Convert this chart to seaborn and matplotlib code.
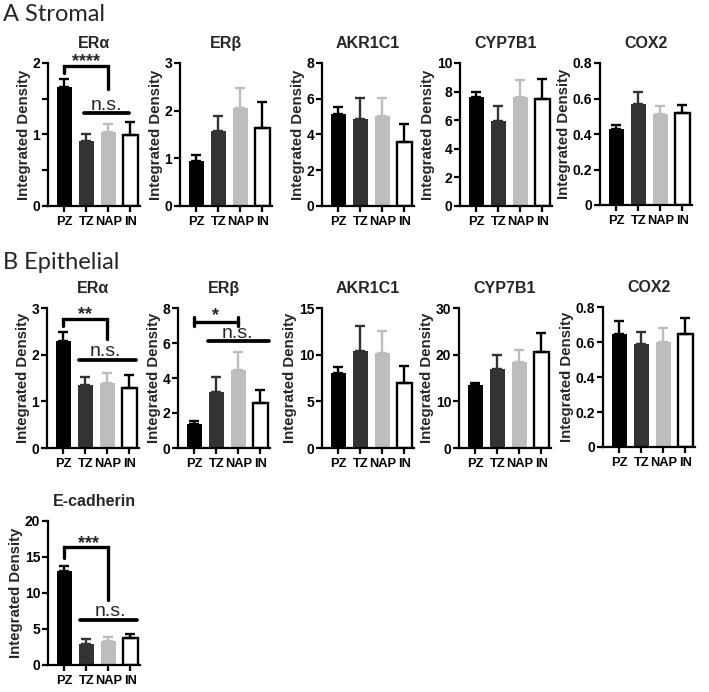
"""
Stromal / epithelial staining bar panels (integrated density by zone).
"""
import numpy as np
import matplotlib
matplotlib.use('Agg')
import matplotlib.pyplot as plt
import seaborn as sns

sns.set_style('ticks')
plt.rcParams.update({
    'font.family': ['Liberation Sans', 'DejaVu Sans'],
    'font.weight': 'bold',
    'axes.linewidth': 1.6,
    'xtick.major.width': 1.6, 'ytick.major.width': 1.6,
    'ytick.minor.width': 1.6,
    'xtick.color': 'black', 'ytick.color': 'black',
    'axes.edgecolor': 'black',
})

# ── data ──────────────────────────────────────────────────────────────────────
groups = ['PZ', 'TZ', 'NAP', 'IN']
bar_colors = ['#000000', '#333333', '#bdbdbd', '#ffffff']
err_colors = ['#000000', '#333333', '#bdbdbd', '#000000']

str_era = [1.66, 0.91, 1.04, 0.99]
str_era_sem = [0.11, 0.09, 0.11, 0.19]
str_erb = [0.95, 1.57, 2.06, 1.63]
str_erb_sem = [0.12, 0.31, 0.42, 0.56]
str_akr = [5.13, 4.85, 5.02, 3.58]
str_akr_sem = [0.41, 1.20, 1.03, 1.02]
str_cyp = [7.65, 5.95, 7.65, 7.50]
str_cyp_sem = [0.35, 1.05, 1.15, 1.35]
str_cox = [0.43, 0.57, 0.51, 0.52]
str_cox_sem = [0.02, 0.065, 0.045, 0.045]

epi_era = [2.30, 1.34, 1.39, 1.29]
epi_era_sem = [0.18, 0.18, 0.22, 0.28]
epi_erb = [1.37, 3.22, 4.47, 2.56]
epi_erb_sem = [0.19, 0.86, 1.01, 0.78]
epi_akr = [8.07, 10.36, 10.20, 7.00]
epi_akr_sem = [0.61, 2.74, 2.30, 1.80]
epi_cyp = [13.4, 17.0, 18.4, 20.6]
epi_cyp_sem = [0.6, 2.9, 2.5, 4.0]
epi_cox = [0.645, 0.59, 0.60, 0.645]
epi_cox_sem = [0.075, 0.07, 0.08, 0.09]

ecad = [13.0, 2.9, 3.28, 3.7]
ecad_sem = [0.8, 0.65, 0.62, 0.6]

# ── layout: (left, top, bottom) in pixels ─────────────────────────────────────
W, H = 709, 692
AX_W = 92
panels = [
    # title, values, sem, ymax, ystep, minor step, left, top, bottom
    ('ERα', str_era, str_era_sem, 2, 1, 0.5, 48, 63, 206),
    ('ERβ', str_erb, str_erb_sem, 3, 1, None, 180, 63, 206),
    ('AKR1C1', str_akr, str_akr_sem, 8, 2, None, 322, 63, 206),
    ('CYP7B1', str_cyp, str_cyp_sem, 10, 2, None, 460, 63, 206),
    ('COX2', str_cox, str_cox_sem, 0.8, 0.2, None, 600, 63, 205),
    ('ERα', epi_era, epi_era_sem, 3, 1, None, 47, 308, 448),
    ('ERβ', epi_erb, epi_erb_sem, 8, 2, None, 178, 308, 448),
    ('AKR1C1', epi_akr, epi_akr_sem, 15, 5, None, 322, 308, 448),
    ('CYP7B1', epi_cyp, epi_cyp_sem, 30, 10, None, 459, 308, 448),
    ('COX2', epi_cox, epi_cox_sem, 0.8, 0.2, None, 603, 307, 447),
    ('E-cadherin', ecad, ecad_sem, 20, 5, None, 48, 521, 665),
]

# significance marks: panel index -> list of annotations
brackets = {
    # (x0, x1, y, left leg end, right leg end, label, label x, label y)
    0: [(0, 2, 1.96, 1.86, 1.63, '****', 1.0, 2.10)],
    5: [(0, 2, 2.76, 2.62, 2.34, '**', 1.0, 2.98)],
    10: [(0, 2, 16.4, 14.9, 9.0, '***', 1.1, 17.7)],
}
ns_lines = {
    # (x0, x1, y, text x, text y)
    0: (0.9, 2.95, 1.30, 1.9, 1.41),
    5: (0.7, 3.3, 1.88, 1.9, 2.07),
    6: (0.6, 3.4, 6.09, 1.95, 6.55),
    10: (0.73, 3.3, 6.2, 2.1, 7.5),
}
capped = {
    # (x0, x1, y, cap low, cap high, label, label x, label y)
    6: (0, 2, 7.2, 6.95, 7.5, '*', 0.95, 7.9),
}

fig = plt.figure(figsize=(W / 100, H / 100), dpi=100)

for idx, (title, vals, sem, ymax, ystep, mstep, left, top, bottom) in enumerate(panels):
    ax = fig.add_axes([left / W, 1 - bottom / H, AX_W / W, (bottom - top) / H])
    sns.barplot(x=groups, y=vals, hue=groups, palette=bar_colors, width=0.68,
                legend=False, ax=ax, linewidth=0, saturation=1)
    for patch, name in zip(ax.patches, groups):
        if name == 'IN':
            patch.set_edgecolor('black')
            patch.set_linewidth(1.7)
    for i, (v, s) in enumerate(zip(vals, sem)):
        ax.errorbar(i, v, yerr=[[0], [s]], fmt='none', ecolor=err_colors[i],
                    elinewidth=1.7, capsize=3.6, capthick=1.7, zorder=1)
    ax.set_xlim(-0.75, 3.45)
    ax.set_ylim(0, ymax)
    ticks = np.round(np.arange(0, ymax + ystep / 2, ystep), 3)
    ax.set_yticks(ticks)
    ax.set_yticklabels([f'{t:g}' for t in ticks])
    if mstep:
        ax.set_yticks(np.arange(0, ymax, mstep), minor=True)
    sns.despine(ax=ax)
    ax.tick_params(axis='y', which='both', length=4, pad=1.5, labelsize=10)
    ax.tick_params(axis='x', length=4.5, pad=3, labelsize=9.3)
    ax.set_ylabel('Integrated Density', fontsize=10.8, fontweight='bold', labelpad=1.5)
    ax.set_xlabel('')
    ax.set_title(title, fontsize=11.5, fontweight='bold', pad=10.5)

    for x0, x1, y, l0, l1, lab, tx, ty in brackets.get(idx, []):
        ax.plot([x0, x0, x1, x1], [l0, y, y, l1], color='black', lw=2.4,
                solid_joinstyle='miter', clip_on=False)
        ax.annotate(lab, xy=(tx, ty), xytext=(0, -7.5), textcoords='offset points',
                    ha='center', va='baseline', fontsize=13, fontweight='bold',
                    annotation_clip=False)
    if idx in capped:
        x0, x1, y, c0, c1, lab, tx, ty = capped[idx]
        ax.plot([x0, x1], [y, y], color='black', lw=2.4, clip_on=False)
        ax.plot([x0, x0], [c0, c1], color='black', lw=2.4, clip_on=False)
        ax.plot([x1, x1], [c0, c1], color='black', lw=2.4, clip_on=False)
        ax.annotate(lab, xy=(tx, ty), xytext=(0, -7.5), textcoords='offset points',
                    ha='center', va='baseline', fontsize=13, fontweight='bold',
                    annotation_clip=False)
    if idx in ns_lines:
        x0, x1, y, tx, ty = ns_lines[idx]
        ax.plot([x0, x1], [y, y], color='black', lw=2.7, clip_on=False)
        ax.annotate('n.s.', xy=(tx, ty), xytext=(0, -3.5), textcoords='offset points',
                    ha='center', va='baseline', fontsize=14, fontweight='normal',
                    annotation_clip=False)

fig.text(3 / W, 1 - 21 / H, 'A Stromal', fontsize=17, family=['Lato', 'DejaVu Sans'],
         fontweight='normal', ha='left', va='baseline')
fig.text(3 / W, 1 - 269 / H, 'B Epithelial', fontsize=17, family=['Lato', 'DejaVu Sans'],
         fontweight='normal', ha='left', va='baseline')

fig.savefig('out.png', dpi=100, facecolor='white')
